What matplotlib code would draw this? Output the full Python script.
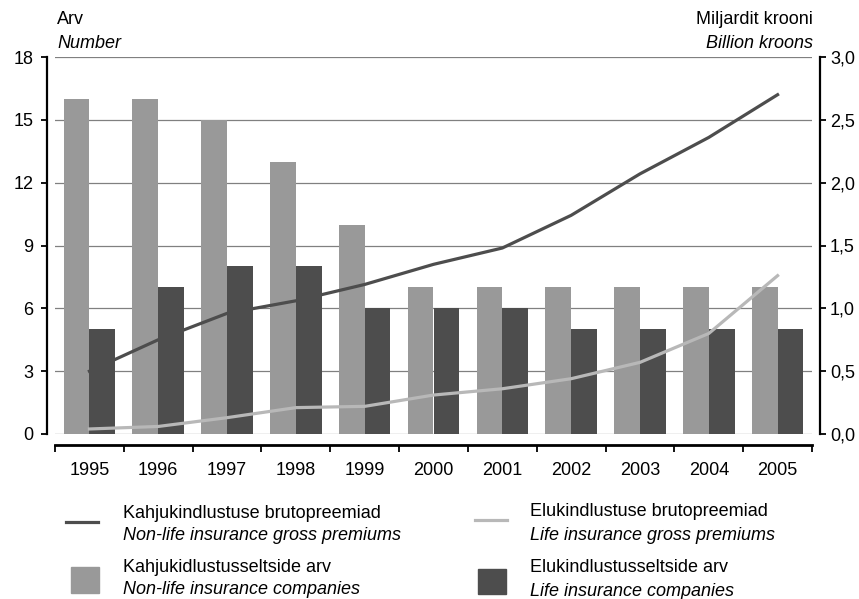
import matplotlib
matplotlib.use("Agg")
import matplotlib.pyplot as plt
import numpy as np
from matplotlib.lines import Line2D
from matplotlib.patches import Rectangle

plt.rcParams['font.family'] = ['Liberation Sans', 'DejaVu Sans']

years = ['1995', '1996', '1997', '1998', '1999', '2000', '2001', '2002', '2003', '2004', '2005']
nonlife_companies = [16, 16, 15, 13, 10, 7, 7, 7, 7, 7, 7]
life_companies = [5, 7, 8, 8, 6, 6, 6, 5, 5, 5, 5]
nonlife_premiums = [0.50, 0.75, 0.96, 1.06, 1.19, 1.35, 1.48, 1.74, 2.07, 2.36, 2.70]
life_premiums = [0.04, 0.06, 0.13, 0.21, 0.22, 0.31, 0.36, 0.44, 0.57, 0.80, 1.26]

light = '#999999'
dark = '#4d4d4d'
line_dark = '#4d4d4d'
line_light = '#b8b8b8'
fs = 13

W, H = 859, 599
fig = plt.figure(figsize=(W / 100, H / 100), dpi=100)
ax = fig.add_axes([55 / W, (H - 434) / H, (812 - 55) / W, (434 - 57) / H])

x = np.arange(len(years))
bw = 0.375
ax.bar(x - bw / 2, nonlife_companies, bw, color=light, zorder=2)
ax.bar(x + bw / 2, life_companies, bw, color=dark, zorder=2)

ax.set_xlim(-0.5, len(years) - 0.5)
ax.set_ylim(0, 18)
ax.set_yticks(range(0, 19, 3))
for v in range(0, 19, 3):
    ax.axhline(v, color='#808080', lw=0.9, zorder=1)

for s in ['top', 'right']:
    ax.spines[s].set_visible(False)
ax.spines['left'].set_position(('outward', 6))
ax.spines['left'].set_linewidth(1.6)
ax.spines['bottom'].set_position(('outward', 8))
ax.spines['bottom'].set_linewidth(2)

ax.set_xticks(x)
ax.set_xticklabels(years)
ax.set_xticks(np.arange(-0.5, len(years), 1), minor=True)
ax.tick_params(axis='x', which='major', length=0, pad=12, labelsize=fs)
ax.tick_params(axis='x', which='minor', length=5, width=1.3, direction='out')
ax.tick_params(axis='y', length=4.5, width=1.3, labelsize=fs, pad=5)

ax2 = ax.twinx()
ax2.plot(x, nonlife_premiums, color=line_dark, lw=2.3, zorder=3)
ax2.plot(x, life_premiums, color=line_light, lw=2.3, zorder=3)
ax2.set_ylim(0, 3)
ax2.set_yticks(np.arange(0, 3.01, 0.5))
ax2.set_yticklabels([f'{v:.1f}'.replace('.', ',') for v in np.arange(0, 3.01, 0.5)])
for s in ['top', 'left', 'bottom']:
    ax2.spines[s].set_visible(False)
ax2.spines['right'].set_position(('outward', 6))
ax2.spines['right'].set_linewidth(1.6)
ax2.tick_params(axis='y', length=4.5, width=1.3, labelsize=fs, pad=2.5)


def fx(px):
    return px / W


def fy(py):
    return 1 - py / H


# axis titles
fig.text(fx(57), fy(19), 'Arv', fontsize=fs, va='center', ha='left')
fig.text(fx(57), fy(44), 'Number', fontsize=fs, style='italic', va='center', ha='left')
fig.text(fx(813), fy(20), 'Miljardit krooni', fontsize=fs, va='center', ha='right')
fig.text(fx(813), fy(44), 'Billion kroons', fontsize=fs, style='italic', va='center', ha='right')

# legend
fig.add_artist(Line2D([fx(66), fx(98)], [fy(522), fy(522)], color=line_dark, lw=2.3))
fig.add_artist(Line2D([fx(475), fx(507)], [fy(520), fy(520)], color=line_light, lw=2.3))
fig.add_artist(Rectangle((fx(71), fy(593)), fx(28), 26 / H, color=light))
fig.add_artist(Rectangle((fx(478), fy(594)), fx(28), 25 / H, color=dark))

legend_rows = [
    (123, 513, 536, 'Kahjukindlustuse brutopreemiad', 'Non-life insurance gross premiums'),
    (530, 512, 536, 'Elukindlustuse brutopreemiad', 'Life insurance gross premiums'),
    (123, 567, 590, 'Kahjukidlustusseltside arv', 'Non-life insurance companies'),
    (530, 568, 591, 'Elukindlustusseltside arv', 'Life insurance companies'),
]
for lx, y1, y2, est, eng in legend_rows:
    fig.text(fx(lx), fy(y1), est, fontsize=fs, va='center', ha='left')
    fig.text(fx(lx), fy(y2), eng, fontsize=fs, style='italic', va='center', ha='left')

fig.savefig('out.png', dpi=100)
